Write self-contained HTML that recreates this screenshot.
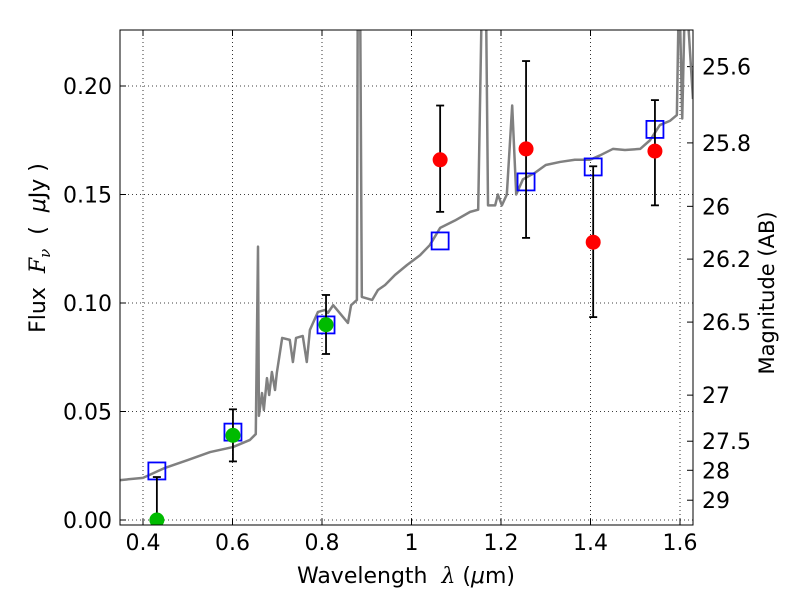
<!DOCTYPE html>
<html><head><meta charset="utf-8"><style>
body{margin:0;background:#fff;width:800px;height:600px;overflow:hidden}
svg text{font-family:"DejaVu Sans","Liberation Sans",sans-serif;fill:#000}
</style></head><body>
<svg id="c" width="800" height="600" xmlns="http://www.w3.org/2000/svg"></svg>
<script>
const specWl=[0.349,0.40,0.449,0.50,0.55,0.601,0.639,0.652,0.657,0.659,0.666,0.670,0.677,0.682,0.688,0.695,0.699,0.711,0.728,0.735,0.742,0.757,0.766,0.773,0.791,0.807,0.813,0.825,0.858,0.865,0.878,0.880,0.885,0.889,0.912,0.925,0.941,0.963,0.99,1.019,1.041,1.064,1.097,1.131,1.149,1.158,1.166,1.171,1.187,1.193,1.202,1.213,1.225,1.234,1.249,1.276,1.30,1.332,1.365,1.399,1.421,1.45,1.477,1.511,1.533,1.555,1.578,1.593,1.598,1.605,1.612,1.629];
const specFlux=[0.0184,0.0194,0.024,0.0276,0.0313,0.0336,0.0369,0.0396,0.126,0.048,0.0585,0.0507,0.0654,0.0576,0.0682,0.0599,0.0677,0.0839,0.083,0.0728,0.0839,0.0848,0.0728,0.0876,0.0959,0.0968,0.0954,0.099,0.0908,0.099,0.1014,0.25,0.25,0.1028,0.1014,0.106,0.1083,0.1129,0.1175,0.122,0.1267,0.1346,0.138,0.142,0.143,0.25,0.25,0.145,0.145,0.15,0.145,0.15,0.191,0.15,0.157,0.160,0.1636,0.165,0.166,0.166,0.168,0.171,0.1705,0.171,0.175,0.182,0.184,0.1866,0.25,0.185,0.25,0.194];
const obsWl=[1.064,1.256,1.406,1.544];
const obsFlux=[0.166,0.171,0.128,0.170];
const obsHi=[0.191,0.2115,0.163,0.1935];
const obsLo=[0.142,0.130,0.0935,0.145];
const grnWl=[0.431,0.601,0.809];
const grnFlux=[0.000,0.039,0.090];
const grnHi=[0.0198,0.051,0.1037];
const grnLo=[0.000,0.027,0.0765];
const modWl=[0.431,0.601,0.809,1.064,1.256,1.406,1.544];
const modFlux=[0.0226,0.0405,0.0899,0.1286,0.1558,0.1627,0.180];
const xTicks=[0.4,0.6,0.8,1.0,1.2,1.4,1.6];
const xLabels=["0.4","0.6","0.8","1","1.2","1.4","1.6"];
const yTicks=[0,0.05,0.10,0.15,0.20];
const yLabels=["0.00","0.05","0.10","0.15","0.20"];
const magTicks=[25.6,25.8,26,26.2,26.5,27,27.5,28,29];

const L=120,R=693,T=30,B=525;
const X=v=>143+(v-0.4)*447.5;
const Y=v=>520-v*2170;
const NS="http://www.w3.org/2000/svg";
const svg=document.getElementById('c');
function mk(t,a,p){const e=document.createElementNS(NS,t);for(const k in a)e.setAttribute(k,a[k]);(p||svg).appendChild(e);return e;}
const defs=mk('defs',{});const cp=mk('clipPath',{id:'cp'},defs);mk('rect',{x:L,y:T,width:R-L,height:B-T},cp);

xTicks.forEach((t,i)=>{
 const g=mk('line',{x1:X(t),x2:X(t),y1:T,y2:B,stroke:'#000','stroke-width':0.8,'stroke-dasharray':'1,3'});
 
 mk('line',{x1:X(t),x2:X(t),y1:B,y2:B-6,stroke:'#000'});mk('line',{x1:X(t),x2:X(t),y1:T,y2:T+6,stroke:'#000'});
 const tx=mk('text',{x:X(t),y:B+25,'text-anchor':'middle','font-size':22});tx.textContent=xLabels[i];
 
});
yTicks.forEach((t,i)=>{
 const g=mk('line',{x1:L,x2:R,y1:Y(t),y2:Y(t),stroke:'#000','stroke-width':0.8,'stroke-dasharray':'1,3'});
 
 mk('line',{x1:L,x2:L+6,y1:Y(t),y2:Y(t),stroke:'#000'});
 const tx=mk('text',{x:L-8,y:Y(t)+8,'text-anchor':'end','font-size':22});tx.textContent=yLabels[i];
 
});
magTicks.forEach(m=>{
 const f=Math.pow(10,(23.9-m)/2.5);const y=Y(f);
 mk('line',{x1:R,x2:R-6,y1:y,y2:y,stroke:'#000'});
 const tx=mk('text',{x:R+9,y:y+8,'font-size':22});tx.textContent=String(m);
 
});
const g=mk('g',{'clip-path':'url(#cp)'});
const sp=mk('polyline',{points:specWl.map((w,i)=>X(w)+','+Y(specFlux[i])).join(' '),fill:'none',stroke:'#808080','stroke-width':2.5,'stroke-linejoin':'round'},g);

function errs(wl,hi,lo){wl.forEach((w,i)=>{const x=X(w);
 const e=mk('line',{x1:x,x2:x,y1:Y(hi[i]),y2:Y(lo[i]),stroke:'#000','stroke-width':1.8},g);
 
 mk('line',{x1:x-4,x2:x+4,y1:Y(hi[i]),y2:Y(hi[i]),stroke:'#000','stroke-width':1.8},g);
 mk('line',{x1:x-4,x2:x+4,y1:Y(lo[i]),y2:Y(lo[i]),stroke:'#000','stroke-width':1.8},g);});}
modWl.forEach((w,i)=>{const s=mk('rect',{x:X(w)-8.5,y:Y(modFlux[i])-8.5,width:17,height:17,fill:'none',stroke:'#0000ff','stroke-width':1.8},g);
 });
errs(obsWl,obsHi,obsLo);errs(grnWl,grnHi,grnLo);
obsWl.forEach((w,i)=>{const c=mk('circle',{cx:X(w),cy:Y(obsFlux[i]),r:7.5,fill:'#ff0000'},g);
 });
grnWl.forEach((w,i)=>{const c=mk('circle',{cx:X(w),cy:Y(grnFlux[i]),r:7.5,fill:'#00bb00'},g);
 });
const fr=mk('rect',{x:L,y:T,width:R-L,height:B-T,fill:'none',stroke:'#000','stroke-width':1});

</script>
<svg width="800" height="600" style="position:absolute;left:0;top:0" xmlns="http://www.w3.org/2000/svg">
<text x="406" y="583" text-anchor="middle" font-size="22" font-family="DejaVu Sans, sans-serif">Wavelength&#160;&#160;<tspan font-family="DejaVu Serif, serif" font-style="italic">λ</tspan>&#160;(<tspan font-style="italic">μ</tspan>m)</text>
<text transform="translate(45,248) rotate(-90)" text-anchor="middle" font-size="22" font-family="DejaVu Sans, sans-serif">Flux&#160;&#160;<tspan font-family="DejaVu Serif, serif" font-style="italic">F<tspan font-size="15" dy="5">ν</tspan></tspan><tspan dy="-5">&#160;&#160;(&#160;&#160;</tspan><tspan font-style="italic">μ</tspan>Jy&#160;)</text>
<text transform="translate(774,293) rotate(-90)" text-anchor="middle" font-size="21" font-family="DejaVu Sans, sans-serif">Magnitude (AB)</text>
</svg>
</body></html>
